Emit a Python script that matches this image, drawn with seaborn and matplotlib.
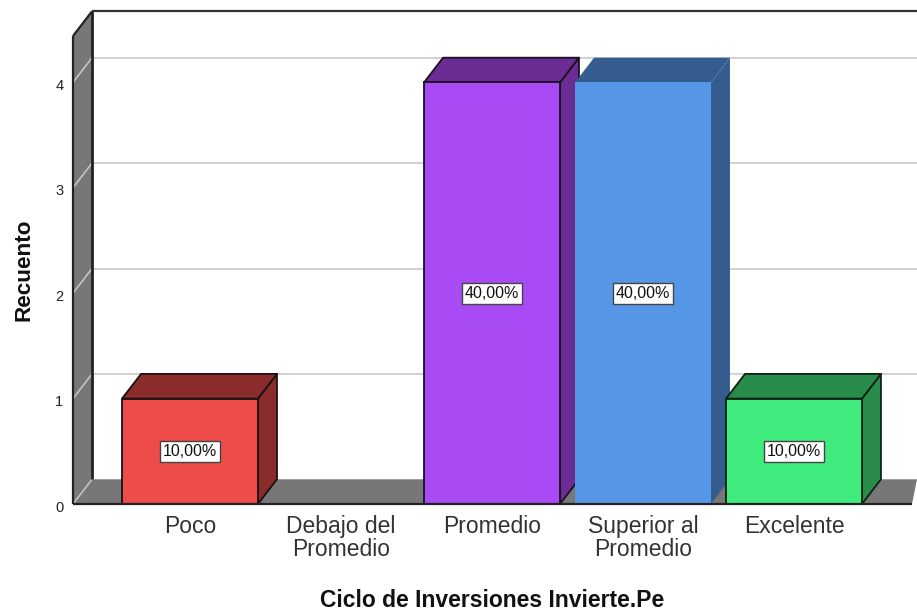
"""Gráfico de barras 3D falso (estilo SPSS): Ciclo de Inversiones Invierte.Pe."""

import matplotlib.pyplot as plt
import matplotlib.transforms as mtrans
import pandas as pd
import seaborn as sns
from matplotlib.patches import Polygon

categorias = ["Poco", "Debajo del\nPromedio", "Promedio", "Superior al\nPromedio", "Excelente"]
recuentos = [1, 0, 4, 4, 1]
porcentajes = ["10,00%", "", "40,00%", "40,00%", "10,00%"]
colores = ["#EE4B4B", "#D3D3D3", "#A94BF5", "#5596E6", "#41EC7F"]
colores_oscuros = ["#8B2C2C", "#808080", "#6B2C93", "#345C8F", "#298C4D"]
bordes = ["#1A1010", "#1A1010", "#1A1020", "#5596E6", "#102015"]
grosores = [1.3, 1.3, 1.3, 0.0, 1.3]
marcas_y = [0, 1, 2, 3, 4]

W, H = 917, 611
IZQ, DER, ARR, ABA = 73, 912, 36, 504  # marco frontal en píxeles
FONDO_X = 19 / 151  # profundidad en unidades de datos
FONDO_Y = 24.7 / 105.4
PISO = "#777777"
LINEA = "#222222"

sns.set_style("white")
plt.rcParams["font.family"] = ["Liberation Sans", "DejaVu Sans"]

df = pd.DataFrame({"cat": categorias, "n": recuentos})

fig = plt.figure(figsize=(W / 100, H / 100), dpi=100)
ax = fig.add_axes([IZQ / W, 1 - ABA / H, (DER - IZQ) / W, (ABA - ARR) / H])
sns.barplot(
    data=df,
    x="cat",
    y="n",
    hue="cat",
    palette=colores,
    saturation=1,
    width=0.9,
    dodge=False,
    legend=False,
    ax=ax,
)
x_min = (IZQ - 190) / 151
x_max = (DER - 190) / 151
y_max = (ABA - ARR) / 105.4
ax.set_xlim(x_min, x_max)
ax.set_ylim(0, y_max)
sns.despine(ax=ax, left=True, bottom=True, top=True, right=True)
ax.patch.set_alpha(0)


def poly(puntos, color, z, borde="none", lw=0.0):
    ax.add_patch(
        Polygon(puntos, closed=True, facecolor=color, edgecolor=borde, linewidth=lw,
                zorder=z, clip_on=False, joinstyle="round")
    )


def linea(xs, ys, color, lw, z):
    ax.plot(xs, ys, color=color, lw=lw, zorder=z, clip_on=False, solid_capstyle="butt")


x_fondo = x_min + FONDO_X
x_lim_fig = x_max + 5 / 151

# pared lateral y piso
poly([(x_min, 0), (x_fondo, FONDO_Y), (x_fondo, y_max + FONDO_Y), (x_min, y_max)], PISO, 1)
poly([(x_min, 0), (x_fondo, FONDO_Y), (x_lim_fig, FONDO_Y), (x_max, 0)], PISO, 1.2)

# rejilla del fondo
for v in marcas_y:
    linea([x_min, x_fondo], [v, v + FONDO_Y], "#C4C4C4", 1.2, 1.3)
    if v > 0:
        linea([x_fondo, x_lim_fig], [v + FONDO_Y, v + FONDO_Y], "#D2D2D2", 1.5, 1.1)

# marco
linea([x_min, x_min], [0, y_max], LINEA, 1.6, 1.5)
linea([x_fondo, x_fondo], [FONDO_Y, y_max + FONDO_Y], LINEA, 2.0, 1.5)
linea([x_min, x_fondo], [y_max, y_max + FONDO_Y], LINEA, 1.6, 1.5)
linea([x_fondo, x_lim_fig], [y_max + FONDO_Y, y_max + FONDO_Y], "#333333", 1.6, 1.5)
linea([x_min, x_max], [0, 0], LINEA, 1.6, 30)

# caras de las barras
for i, contenedor in enumerate(ax.containers):
    barra = contenedor[0]
    alto = barra.get_height()
    if alto == 0:
        continue
    x0 = barra.get_x()
    x1 = x0 + barra.get_width()
    z = 3 + i
    lw = grosores[i]
    barra.set_edgecolor(bordes[i])
    barra.set_linewidth(lw)
    barra.set_zorder(z + 0.5)
    barra.set_clip_on(False)
    poly([(x1, 0), (x1 + FONDO_X, FONDO_Y), (x1 + FONDO_X, alto + FONDO_Y), (x1, alto)],
         colores_oscuros[i], z, bordes[i], lw)
    poly([(x0, alto), (x0 + FONDO_X, alto + FONDO_Y), (x1 + FONDO_X, alto + FONDO_Y), (x1, alto)],
         colores_oscuros[i], z, bordes[i], lw)
    ax.text(
        barra.get_x() + barra.get_width() / 2,
        alto / 2,
        porcentajes[i],
        ha="center",
        va="center",
        fontsize=11.5,
        color="#111111",
        zorder=25,
        bbox=dict(boxstyle="square,pad=0.2", facecolor="white", edgecolor="#444444", linewidth=1.0),
    )

ax.set_xticks(range(len(categorias)))
ax.set_xticklabels(categorias, fontsize=16.5, color="#333333", linespacing=0.98)
ax.set_yticks(marcas_y)
ax.set_yticklabels(marcas_y, fontsize=10.5, color="#222222")
ax.tick_params(axis="both", length=0)
ax.tick_params(axis="x", pad=8)
ax.tick_params(axis="y", pad=7)
# los números del eje quedan un poco por debajo de su marca
bajar = mtrans.ScaledTranslation(0, -2 / 100, fig.dpi_scale_trans)
for etiqueta in ax.get_yticklabels():
    etiqueta.set_transform(etiqueta.get_transform() + bajar)
ax.set_xlabel("Ciclo de Inversiones Invierte.Pe", fontsize=16.5, fontweight="bold", color="#111111", labelpad=20)
ax.set_ylabel("Recuento", fontsize=16.2, fontweight="bold", color="#111111", labelpad=15)

fig.savefig("out.png", dpi=100)
